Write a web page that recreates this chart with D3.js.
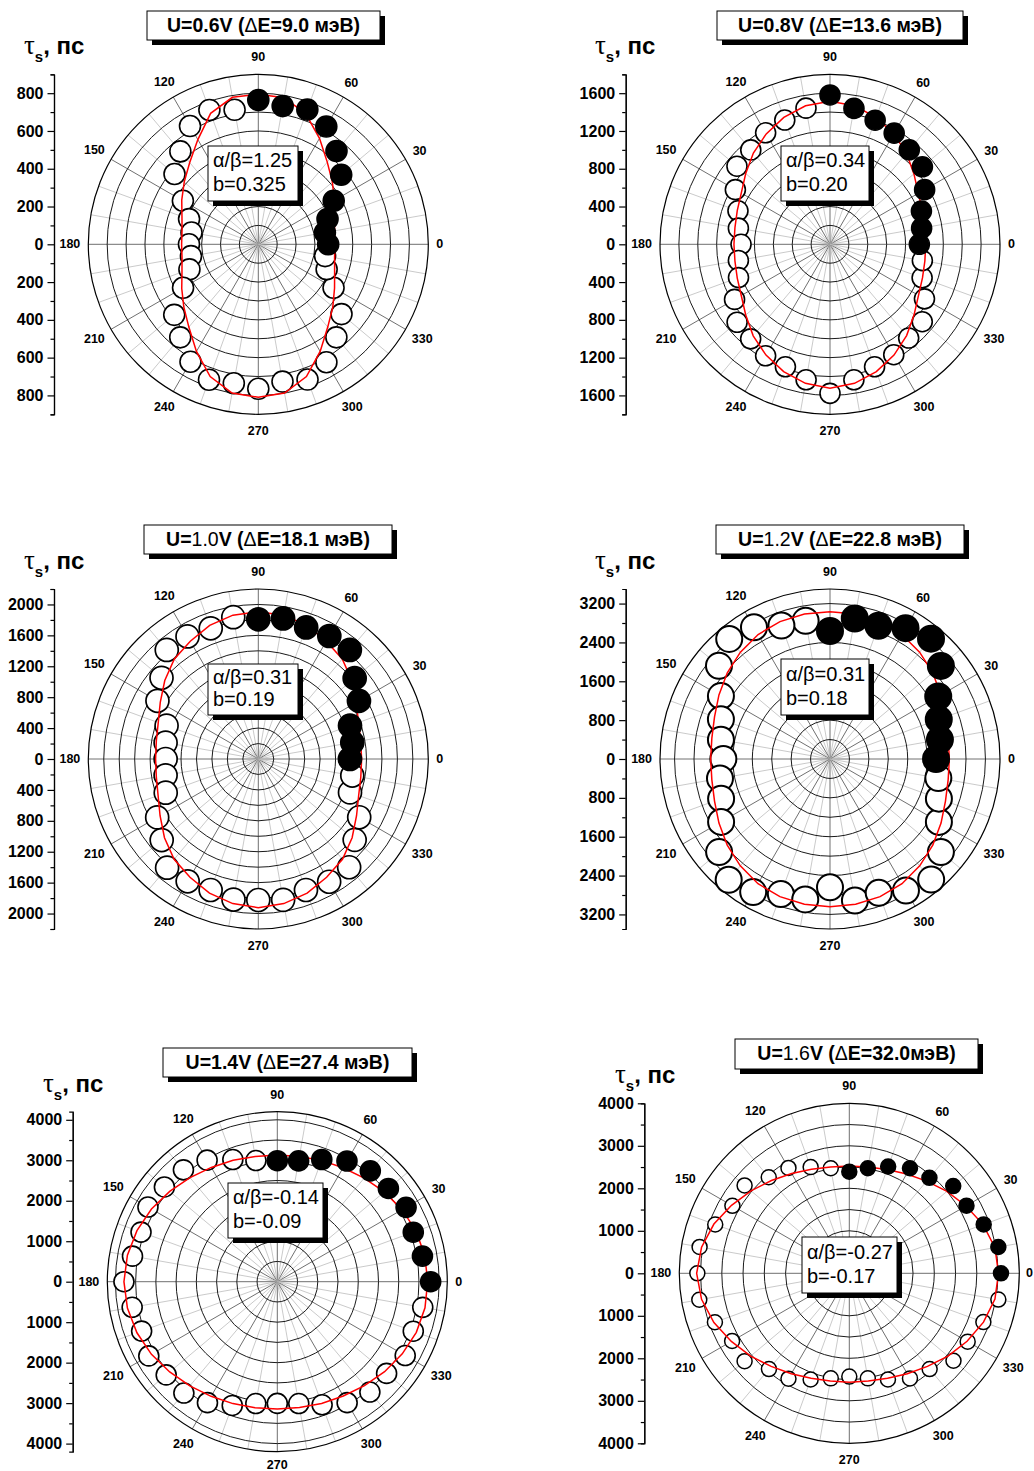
<!DOCTYPE html>
<html>
<head>
<meta charset="utf-8">
<script src="https://cdn.jsdelivr.net/npm/d3@7"></script>
<style>
  body { margin: 0; background: #fff; }
  svg { display: block; font-family: "Liberation Sans", Arial, sans-serif; }
</style>
</head>
<body>
<svg id="fig" width="1034" height="1471"></svg>
<script>
// ---- data -------------------------------------------------------------
// in-plane angle of the field, degrees
const angleDeg = [0, 10, 20, 30, 40, 50, 60, 70, 80, 90, 100, 110, 120, 130, 140, 150, 160, 170,
                  180, 190, 200, 210, 220, 230, 240, 250, 260, 270, 280, 290, 300, 310, 320, 330, 340, 350];
// angles measured directly (solid symbols); the rest are shown open
const measuredAngles = [0, 10, 20, 30, 40, 50, 60, 70, 80, 90];
const angleLabels = [0, 30, 60, 90, 120, 150, 180, 210, 240, 270, 300, 330];

// spin relaxation time tau_s, ps
const tau06 = [370, 358, 390, 461, 573, 644, 720, 759, 743, 764, 723, 757, 723, 642, 579, 461, 390, 359,
               367, 362, 388, 460, 581, 643, 718, 763, 747, 765, 738, 762, 721, 643, 575, 460, 385, 359];
const tau08 = [946, 985, 1030, 1157, 1277, 1306, 1359, 1398, 1461, 1581, 1464, 1400, 1363, 1305, 1286, 1157, 1037, 985,
               942, 985, 1031, 1167, 1284, 1307, 1363, 1380, 1457, 1578, 1457, 1380, 1350, 1296, 1275, 1155, 1038, 993];
const tau10 = [1186, 1235, 1263, 1504, 1628, 1843, 1838, 1812, 1847, 1808, 1864, 1800, 1832, 1843, 1635, 1507, 1263, 1218,
               1199, 1218, 1275, 1511, 1632, 1836, 1828, 1804, 1847, 1825, 1851, 1804, 1834, 1829, 1628, 1508, 1263, 1235];
const tau12 = [2183, 2298, 2383, 2573, 2980, 3235, 3110, 2917, 2937, 2635, 2888, 2925, 3130, 3228, 2984, 2593, 2390, 2280,
               2196, 2300, 2386, 2589, 2980, 3245, 3163, 2960, 2935, 2642, 2958, 2933, 3128, 3240, 2980, 2589, 2386, 2265];
const tau14 = [3789, 3641, 3575, 3674, 3583, 3575, 3443, 3213, 3031, 2990, 3040, 3212, 3468, 3608, 3641, 3690, 3583, 3633,
               3789, 3641, 3567, 3666, 3583, 3591, 3451, 3254, 3056, 3007, 3056, 3237, 3451, 3558, 3525, 3649, 3575, 3649];
const tau16 = [3569, 3561, 3365, 3184, 3192, 2933, 2855, 2674, 2510, 2392, 2510, 2659, 2863, 2949, 3216, 3176, 3357, 3577,
               3576, 3584, 3365, 3184, 3216, 2941, 2863, 2659, 2510, 2431, 2510, 2659, 2855, 2941, 3200, 3216, 3357, 3561];

// model curves
const fit06 = [406, 410, 428, 465, 512, 568, 648, 735, 788, 795, 790, 738, 640, 565, 512, 468, 430, 410,
               406, 410, 430, 468, 515, 572, 655, 745, 800, 810, 800, 745, 655, 572, 515, 466, 430, 410];
const fit08 = [1013, 1020, 1040, 1080, 1160, 1260, 1350, 1430, 1490, 1515, 1490, 1430, 1350, 1262, 1165, 1085, 1045, 1022,
               1017, 1022, 1045, 1085, 1165, 1265, 1355, 1435, 1495, 1525, 1495, 1435, 1355, 1262, 1162, 1082, 1042, 1020];
const fit10 = [1337, 1345, 1380, 1465, 1580, 1690, 1760, 1840, 1890, 1907, 1890, 1840, 1760, 1690, 1580, 1465, 1378, 1340,
               1329, 1340, 1380, 1468, 1585, 1695, 1768, 1848, 1900, 1924, 1900, 1848, 1768, 1695, 1585, 1468, 1382, 1347];
const fit12 = [2457, 2470, 2530, 2640, 2760, 2870, 2960, 3010, 3030, 3034, 3030, 3010, 2960, 2870, 2760, 2640, 2530, 2470,
               2457, 2470, 2530, 2640, 2762, 2873, 2965, 3015, 3036, 3040, 3036, 3015, 2965, 2873, 2762, 2640, 2530, 2470];
const fit14 = [3715, 3700, 3650, 3560, 3450, 3340, 3250, 3190, 3140, 3130, 3140, 3195, 3260, 3355, 3470, 3590, 3690, 3760,
               3789, 3760, 3690, 3590, 3470, 3360, 3270, 3205, 3160, 3146, 3155, 3200, 3260, 3350, 3460, 3565, 3655, 3705];
const fit16 = [3510, 3480, 3350, 3170, 3000, 2830, 2700, 2600, 2540, 2525, 2540, 2605, 2710, 2850, 3020, 3200, 3390, 3530,
               3592, 3530, 3390, 3205, 3030, 2860, 2730, 2630, 2575, 2565, 2575, 2630, 2730, 2860, 3030, 3200, 3360, 3480];

// radial axis: full range and labelled ticks
const radialMax = [900, 1800, 2200, 3500, 4200, 4000];
const majorTicks = [
  [-800, -600, -400, -200, 0, 200, 400, 600, 800],
  [-1600, -1200, -800, -400, 0, 400, 800, 1200, 1600],
  [-2000, -1600, -1200, -800, -400, 0, 400, 800, 1200, 1600, 2000],
  [-3200, -2400, -1600, -800, 0, 800, 1600, 2400, 3200],
  [-4000, -3000, -2000, -1000, 0, 1000, 2000, 3000, 4000],
  [-4000, -3000, -2000, -1000, 0, 1000, 2000, 3000, 4000]
];

// panel headings (text, weight) and fit parameters
const titleParts = [
  [["U=0.6V (", 700], ["Δ", 400], ["E=9.0 мэВ)", 700]],
  [["U=0.8V (", 700], ["Δ", 400], ["E=13.6 мэВ)", 700]],
  [["U=", 700], ["1.0", 400], ["V (", 700], ["Δ", 400], ["E=18.1 мэВ)", 700]],
  [["U=", 700], ["1.2", 400], ["V (", 700], ["Δ", 400], ["E=22.8 мэВ)", 700]],
  [["U=1.4V (", 700], ["Δ", 400], ["E=27.4 мэВ)", 700]],
  [["U=", 700], ["1.6", 400], ["V (", 700], ["Δ", 400], ["E=32.0мэВ)", 700]]
];
const ratioLabels = ["α/β=1.25", "α/β=0.34", "α/β=0.31", "α/β=0.31", "α/β=-0.14", "α/β=-0.27"];
const bLabels = ["b=0.325", "b=0.20", "b=0.19", "b=0.18", "b=-0.09", "b=-0.17"];

// ---- layout -----------------------------------------------------------
const W = 1034, H = 1471;
const R = 170;
const layout = [
  { cx: 258.3, cy: 244.3, axisX: 54, minorStep: 100, ringStep: 100, mark: 10.5, mw: 1.6,
    title: [147, 11, 233, 29], note: [208, 146, 90, 55], tau: [24, 54.3] },
  { cx: 830, cy: 244.3, axisX: 625.7, minorStep: 200, ringStep: 200, mark: 10, mw: 1.6,
    title: [717, 11, 246, 29], note: [781, 146, 88, 55], tau: [595, 54.3] },
  { cx: 258.3, cy: 759, axisX: 54, minorStep: 200, ringStep: 200, mark: 11.5, mw: 1.7,
    title: [144, 525, 248, 29], note: [208, 664, 90, 51], tau: [24, 569] },
  { cx: 830, cy: 759, axisX: 625.7, minorStep: 400, ringStep: 400, mark: 13, mw: 2,
    title: [716, 525, 248, 29], note: [781, 659, 88, 56], tau: [595, 569] },
  { cx: 277.3, cy: 1281.7, axisX: 72.7, minorStep: 500, ringStep: 500, mark: 10, mw: 1.6,
    title: [163, 1048, 249, 29], note: [228, 1183, 95, 55], tau: [43, 1091.7] },
  { cx: 849.3, cy: 1273.3, axisX: 644.3, minorStep: 500, ringStep: 500, mark: 7.5, mw: 1.5,
    title: [735, 1039, 243, 30], note: [802, 1237, 95, 56], tau: [615, 1083.3] }
];

const series = [tau06, tau08, tau10, tau12, tau14, tau16];
const fits = [fit06, fit08, fit10, fit12, fit14, fit16];

const svg = d3.select("#fig");
const rad = d => d * Math.PI / 180;

function drawPanel(i) {
  const L = layout[i];
  const rMax = radialMax[i];
  const g = svg.append("g");
  const rs = d3.scaleLinear().domain([0, rMax]).range([0, R]);
  const px = (a, v) => L.cx + rs(v) * Math.cos(rad(a));
  const py = (a, v) => L.cy - rs(v) * Math.sin(rad(a));

  // spokes every 10 degrees, darker every 30
  g.append("g").selectAll("line").data(angleDeg).join("line")
    .attr("x1", L.cx).attr("y1", L.cy)
    .attr("x2", a => px(a, rMax)).attr("y2", a => py(a, rMax))
    .attr("stroke", a => a % 30 === 0 ? "#707070" : "#bdbdbd")
    .attr("stroke-width", a => a % 30 === 0 ? 1 : 0.8);

  // concentric rings
  const rings = d3.range(L.ringStep, rMax - 1e-6, L.ringStep);
  g.append("g").selectAll("circle").data(rings).join("circle")
    .attr("cx", L.cx).attr("cy", L.cy).attr("r", d => rs(d))
    .attr("fill", "none").attr("stroke", "#1a1a1a").attr("stroke-width", 1);
  g.append("circle").attr("cx", L.cx).attr("cy", L.cy).attr("r", R)
    .attr("fill", "none").attr("stroke", "#000").attr("stroke-width", 1.2);

  // angle labels, kept a fixed gap outside the rim (and inside the page)
  const lbl = g.append("g").selectAll("text").data(angleLabels).join("text")
    .attr("text-anchor", "middle").attr("dominant-baseline", "central")
    .attr("font-size", 12.5).attr("font-weight", 700)
    .text(d => d);
  lbl.each(function (a) {
    const w = this.getComputedTextLength();
    const s = Math.abs(Math.sin(rad(a)));
    const off = R + 8 + Math.abs(Math.cos(rad(a))) * w / 2 + s * 4.5 + Math.pow(s, 12) * 4.5;
    const x = Math.min(L.cx + off * Math.cos(rad(a)), W - w / 2 - 1);
    const y = Math.min(L.cy - off * Math.sin(rad(a)), H - 6);
    d3.select(this).attr("x", x).attr("y", y);
  });

  // radial scale on the left
  const yAx = d3.scaleLinear().domain([-rMax, rMax]).range([L.cy + R, L.cy - R]);
  const minor = [];
  d3.range(L.minorStep, rMax + 1e-6, L.minorStep).forEach(v => {
    if (!majorTicks[i].includes(v)) { minor.push(v, -v); }
  });
  const axMinor = g.append("g").attr("transform", `translate(${L.axisX},0)`)
    .call(d3.axisLeft(yAx).tickValues(minor).tickSize(3.5).tickSizeOuter(3.5).tickFormat(""));
  const axMajor = g.append("g").attr("transform", `translate(${L.axisX},0)`)
    .call(d3.axisLeft(yAx).tickValues(majorTicks[i]).tickSize(6.5).tickSizeOuter(0)
      .tickPadding(4).tickFormat(d => Math.abs(d)));
  [axMinor, axMajor].forEach(ax => {
    ax.selectAll("path, line").attr("stroke", "#000").attr("stroke-width", 1.2);
  });
  axMajor.selectAll("text").attr("font-family", "'Liberation Sans', Arial, sans-serif")
    .attr("font-size", 16).attr("font-weight", 700).attr("fill", "#000");

  // axis title
  const tt = g.append("text").attr("x", L.tau[0]).attr("y", L.tau[1]);
  tt.append("tspan").attr("font-family", "'Liberation Serif', serif").attr("font-size", 27).text("τ");
  tt.append("tspan").attr("font-size", 15).attr("font-weight", 700).attr("dy", 8).text("s");
  tt.append("tspan").attr("font-size", 24).attr("font-weight", 700).attr("dy", -8).text(", пс");

  // data
  const pts = angleDeg.map((a, k) => ({ a, v: series[i][k], solid: measuredAngles.includes(a) }));
  g.append("g").selectAll("circle").data(pts.filter(d => !d.solid)).join("circle")
    .attr("cx", d => px(d.a, d.v)).attr("cy", d => py(d.a, d.v)).attr("r", L.mark)
    .attr("fill", "#fff").attr("stroke", "#000").attr("stroke-width", L.mw);

  const fitLine = d3.lineRadial()
    .angle(d => rad(90 - d.a)).radius(d => rs(d.v)).curve(d3.curveLinearClosed);
  g.append("path")
    .attr("transform", `translate(${L.cx},${L.cy})`)
    .attr("d", fitLine(angleDeg.map((a, k) => ({ a, v: fits[i][k] }))))
    .attr("fill", "none").attr("stroke", "#ff0000").attr("stroke-width", 1.5);

  g.append("g").selectAll("circle").data(pts.filter(d => d.solid)).join("circle")
    .attr("cx", d => px(d.a, d.v)).attr("cy", d => py(d.a, d.v)).attr("r", L.mark)
    .attr("fill", "#000").attr("stroke", "#000").attr("stroke-width", L.mw);

  // parameter box
  const [nx, ny, nw, nh] = L.note;
  g.append("rect").attr("x", nx + 5).attr("y", ny + 5).attr("width", nw).attr("height", nh).attr("fill", "#000");
  g.append("rect").attr("x", nx).attr("y", ny).attr("width", nw).attr("height", nh)
    .attr("fill", "#fff").attr("stroke", "#000").attr("stroke-width", 1);
  g.append("text").attr("x", nx + 5).attr("y", ny + nh * 0.38 + 0.5).attr("font-size", 20).text(ratioLabels[i]);
  g.append("text").attr("x", nx + 5).attr("y", ny + nh * 0.82).attr("font-size", 20).text(bLabels[i]);

  // heading box
  const [tx, ty, tw, th] = L.title;
  g.append("rect").attr("x", tx + 5).attr("y", ty + 5).attr("width", tw).attr("height", th).attr("fill", "#000");
  g.append("rect").attr("x", tx).attr("y", ty).attr("width", tw).attr("height", th)
    .attr("fill", "#fff").attr("stroke", "#000").attr("stroke-width", 1);
  const head = g.append("text").attr("x", tx + tw / 2).attr("y", ty + 21)
    .attr("text-anchor", "middle").attr("font-size", 19.5);
  titleParts[i].forEach(([s, w]) => head.append("tspan").attr("font-weight", w).text(s));
}

for (let i = 0; i < 6; i++) drawPanel(i);
</script>
</body>
</html>
